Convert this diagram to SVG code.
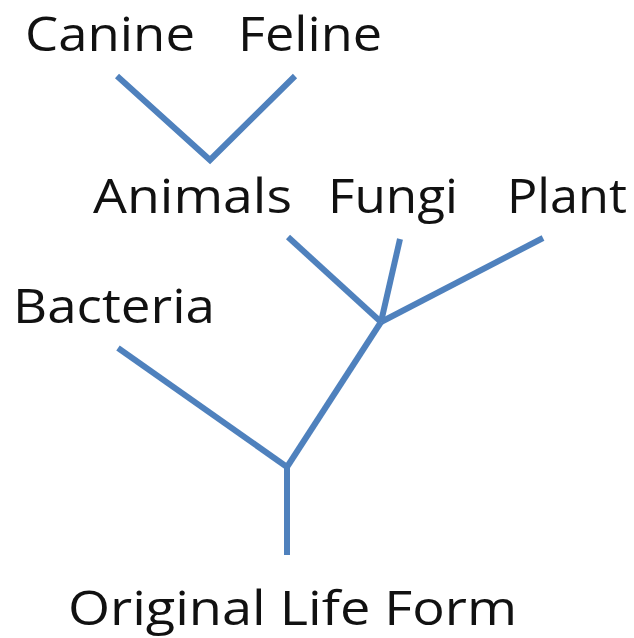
<svg xmlns="http://www.w3.org/2000/svg" width="634" height="638" viewBox="0 0 634 638">
<style>
.lbl{font-family:"Open Sans","Liberation Sans",sans-serif;font-size:47px;fill:#111}
.ln{stroke:#4F81BD;stroke-width:6;fill:none;stroke-linejoin:miter}
</style>
<rect width="634" height="638" fill="#fff"/>
<g id="connectors">
<polyline class="ln" points="117,76 210,160 295,76"/>
<line class="ln" x1="288" y1="237" x2="381" y2="322"/>
<line class="ln" x1="400" y1="239" x2="381" y2="322"/>
<line class="ln" x1="543" y1="238" x2="381" y2="322"/>
<line class="ln" x1="381" y1="322" x2="287" y2="467"/>
<line class="ln" x1="118" y1="348" x2="287" y2="467"/>
<line class="ln" x1="287" y1="467" x2="287" y2="555"/>
</g>
<g id="canine"><text class="lbl" x="25" y="51" textLength="170" lengthAdjust="spacingAndGlyphs">Canine</text></g>
<g id="feline"><text class="lbl" x="238" y="51" textLength="144" lengthAdjust="spacingAndGlyphs">Feline</text></g>
<g id="animals"><text class="lbl" x="93" y="213" textLength="199" lengthAdjust="spacingAndGlyphs">Animals</text></g>
<g id="fungi"><text class="lbl" x="328" y="213" textLength="130" lengthAdjust="spacingAndGlyphs">Fungi</text></g>
<g id="plant"><text class="lbl" x="507" y="213" textLength="120" lengthAdjust="spacingAndGlyphs">Plant</text></g>
<g id="bacteria"><text class="lbl" x="13" y="323" textLength="202" lengthAdjust="spacingAndGlyphs">Bacteria</text></g>
<g id="original"><text class="lbl" x="68" y="625" textLength="449" lengthAdjust="spacingAndGlyphs">Original Life Form</text></g>
</svg>
